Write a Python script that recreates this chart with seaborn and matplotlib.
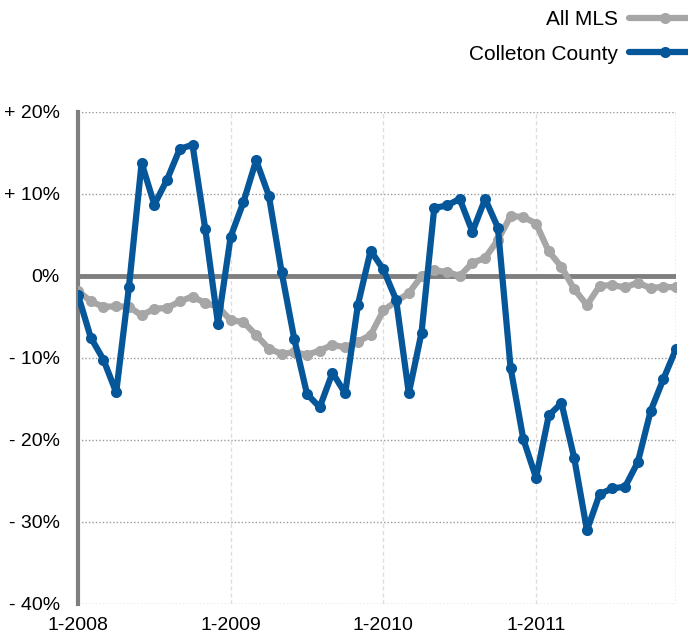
import pandas as pd
import matplotlib
matplotlib.use('Agg')
import matplotlib.pyplot as plt
import seaborn as sns

# monthly values, 1-2008 .. 12-2011 (percent change)
months = list(range(48))
all_mls = [-1.8, -3.1, -3.75, -3.7, -3.75, -4.8, -4.0, -3.9, -3.1, -2.5, -3.3, -3.75,
           -5.4, -5.6, -7.2, -8.85, -9.5, -9.3, -9.6, -9.1, -8.4, -8.7, -8.0, -7.2,
           -4.2, -3.1, -2.1, 0.0, 0.7, 0.5, 0.0, 1.6, 2.2, 4.4, 7.3, 7.2,
           6.4, 3.0, 1.1, -1.6, -3.55, -1.2, -1.1, -1.4, -0.8, -1.5, -1.3, -1.4]
colleton = [-2.3, -7.5, -10.2, -14.2, -1.4, 13.8, 8.7, 11.75, 15.5, 16.0, 5.75, -5.8,
            4.8, 9.0, 14.1, 9.8, 0.5, -7.7, -14.4, -16.0, -11.8, -14.3, -3.5, 3.1,
            0.8, -2.9, -14.3, -6.9, 8.3, 8.6, 9.4, 5.4, 9.4, 5.9, -11.2, -19.9,
            -24.6, -17.0, -15.5, -22.2, -31.0, -26.6, -25.9, -25.7, -22.7, -16.5, -12.6, -8.9]
series_names = ['All MLS', 'Colleton County']
year_ticks = [0, 12, 24, 36]
year_labels = ['1-2008', '1-2009', '1-2010', '1-2011']
y_ticks = [20, 10, 0, -10, -20, -30, -40]
y_labels = ['+ 20%', '+ 10%', '0%', '- 10%', '- 20%', '- 30%', '- 40%']

df = pd.DataFrame({
    'month': months * 2,
    'value': all_mls + colleton,
    'series': [series_names[0]] * 48 + [series_names[1]] * 48,
})

sns.set_style('white')
plt.rcParams['font.family'] = ['Liberation Sans', 'DejaVu Sans']
plt.rcParams['text.color'] = 'black'
plt.rcParams['xtick.color'] = 'black'
plt.rcParams['ytick.color'] = 'black'

fig = plt.figure(figsize=(6.88, 6.36), dpi=100)
ax = fig.add_axes([78 / 688, 1 - 604 / 636, 598 / 688, 492 / 636])

# grid
for y in y_ticks:
    if y != 0:
        ax.axhline(y, color='#999999', lw=1, ls=(0, (1, 1.5)), zorder=0)
for x in year_ticks[1:]:
    ax.axvline(x, color='#dddddd', lw=1, ls=(0, (3, 2)), zorder=0)
ax.axvline(47, color='#999999', lw=1, ls=(0, (1, 1.5)), zorder=0)
ax.axhline(0, color='#7f7f7f', lw=3.5, zorder=1)

sns.lineplot(data=df, x='month', y='value', hue='series',
             palette={'All MLS': '#a6a6a6', 'Colleton County': '#06569a'},
             marker='o', markersize=8, markeredgewidth=0, linewidth=4.5,
             ax=ax, zorder=3)

ax.set_xlim(0, 47)
ax.set_ylim(-40, 20)
ax.set_xticks(year_ticks)
ax.set_xticklabels(year_labels, fontsize=14)
ax.set_yticks(y_ticks)
ax.set_yticklabels(y_labels, fontsize=14)
ax.set_xlabel('')
ax.set_ylabel('')
ax.tick_params(axis='x', length=0, pad=9, labelcolor='black')
ax.tick_params(axis='y', length=5, width=2, color='#7f7f7f', pad=8, labelcolor='black')

for s in ['top', 'right', 'bottom']:
    ax.spines[s].set_visible(False)
ax.spines['left'].set_color('#7f7f7f')
ax.spines['left'].set_linewidth(3)

handles, labels = ax.get_legend_handles_labels()
leg = ax.legend(handles, labels, loc='upper right', frameon=False, markerfirst=False,
                fontsize=15, handlelength=3.4, handletextpad=0.55, labelspacing=0.75,
                borderaxespad=0, borderpad=0, labelcolor='black')
leg.set_bbox_to_anchor((700 / 688, 1 - 10 / 636), transform=fig.transFigure)

fig.savefig('out.png', dpi=100)
